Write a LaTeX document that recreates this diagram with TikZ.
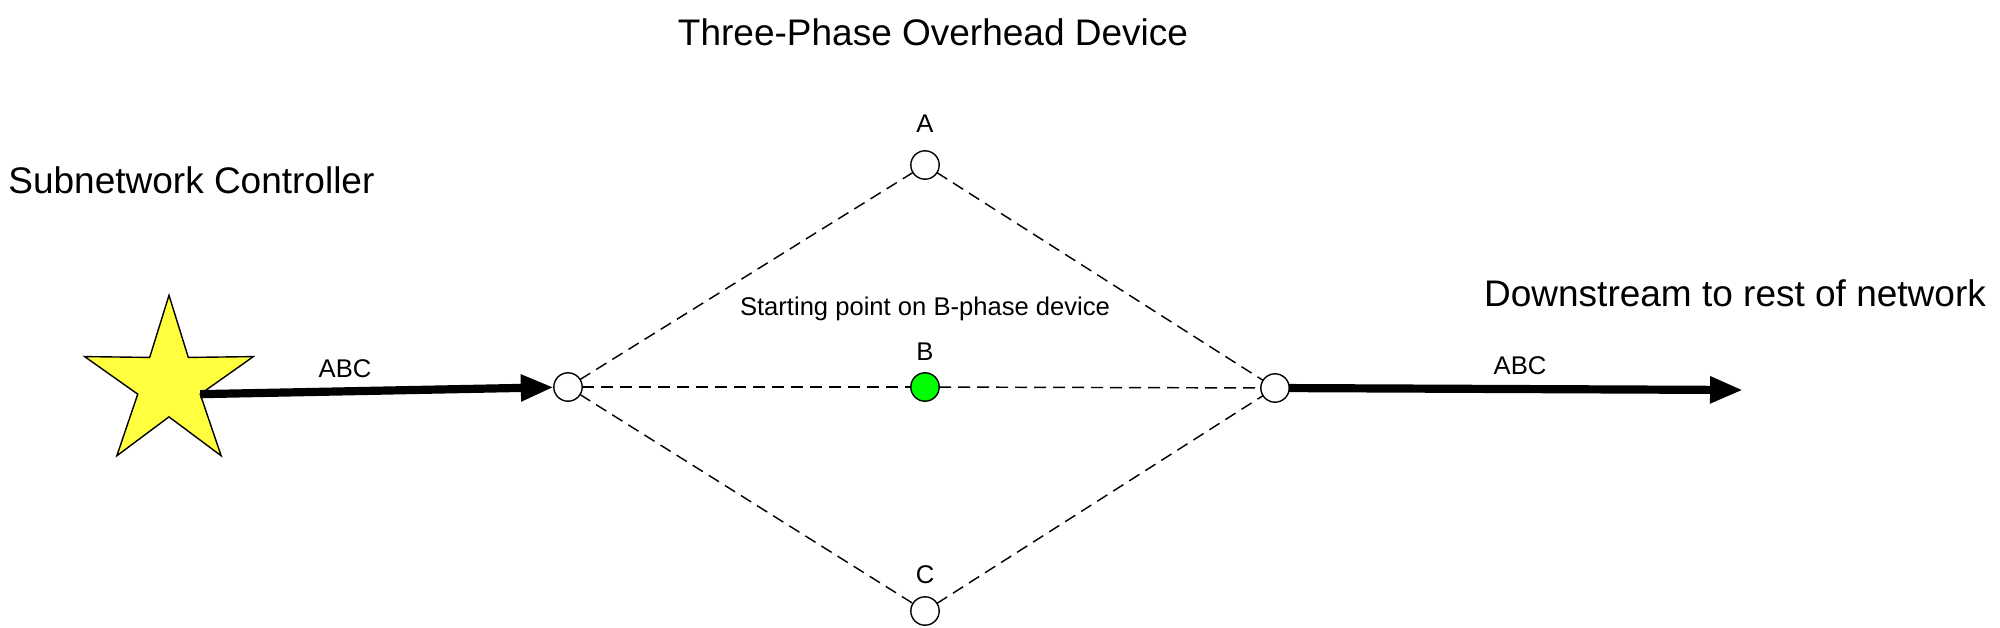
\documentclass[tikz,border=0pt]{standalone}
\usepackage{fontspec}
\setmainfont{Liberation Sans}
\usetikzlibrary{shapes.geometric,arrows.meta}
\definecolor{staryellow}{RGB}{255,255,64}
\definecolor{bgreen}{RGB}{0,255,0}
\begin{document}
\begin{tikzpicture}[x=0.5pt,y=-0.5pt,
  port/.style={circle,draw,fill=white,line width=0.7pt,minimum size=14.2pt,inner sep=0pt,outer sep=0pt},
  bigtxt/.style={font=\fontsize{18.5pt}{22pt}\selectfont,anchor=base,inner sep=0pt},
  smalltxt/.style={font=\fontsize{12.8pt}{15pt}\selectfont,anchor=base,inner sep=0pt},
  phase/.style={dash pattern=on 6pt off 3.5pt,line width=0.72pt},
  feeder/.style={line width=4.1pt,-{Triangle[length=16.5pt,width=12.5pt]}}]
\useasboundingbox (0,0) rectangle (2000,627);

% titles
\node[bigtxt] (title) at (933,45) {Three-Phase Overhead Device};
\node[bigtxt,anchor=base west] (ctrl) at (8,193) {Subnetwork Controller};
\node[bigtxt] (down) at (1735,306) {Downstream to rest of network};

% star
\node[star,star points=5,star point ratio=2.7,minimum size=88.7pt,inner sep=0pt,outer sep=0pt,
      draw,line width=0.7pt,fill=staryellow] (star) at (169,384) {};

% device nodes
\node[port] (L) at (568,387) {};
\node[port] (A) at (925,165) {};
\node[port,fill=bgreen] (B) at (925,387) {};
\node[port] (C) at (925,611) {};
\node[port] (R) at (1275,388) {};
\coordinate (end) at (1743,390);

% labels
\node[smalltxt] (lA) at (925,132) {A};
\node[smalltxt] (lB) at (925,360) {B};
\node[smalltxt] (lC) at (925,583) {C};
\node[smalltxt] (start) at (925,315) {Starting point on B-phase device};
\node[smalltxt] (abc1) at (345,377) {ABC};
\node[smalltxt] (abc2) at (1520,374) {ABC};

% phase connectors
\draw[phase] (L) -- (A);
\draw[phase] (L) -- (B);
\draw[phase] (L) -- (C);
\draw[phase] (A) -- (R);
\draw[phase] (B) -- (R);
\draw[phase] (C) -- (R);

% feeders
\draw[feeder] (star.inner point 4) -- (L);
\draw[feeder] (R) -- (end);
\end{tikzpicture}
\end{document}
